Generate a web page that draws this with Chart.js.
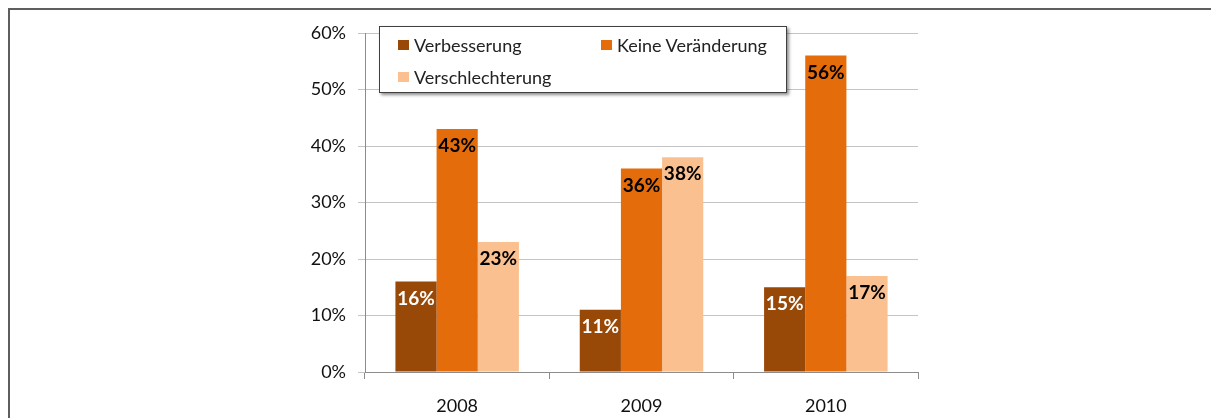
<!DOCTYPE html>
<html>
<head>
<meta charset="utf-8">
<script src="https://cdn.jsdelivr.net/npm/chart.js@4"></script>
<style>
    body { margin: 0; background: #fff; }
    #wrap { position: relative; width: 1211px; height: 418px; overflow: hidden; }
    #frame {
        position: absolute; left: 8px; top: 8px; width: 1400px; height: 600px;
        border-left: 2px solid #5e5e5e; border-top: 2px solid #5e5e5e;
    }
    #chartBox { position: absolute; left: 0; top: 0; width: 1211px; height: 418px; }
    #legend {
        position: absolute; left: 379px; top: 26px; width: 406px; height: 65px;
        background: #fff; border: 1px solid #404040;
        box-shadow: 2px 2px 3px rgba(0,0,0,0.45);
        font-family: Lato, sans-serif; font-size: 18px; color: #222;
    }
    .item { position: absolute; display: flex; align-items: center; white-space: nowrap; }
    .swatch { width: 11px; height: 10px; margin-right: 5px; }
</style>
</head>
<body>
<div id="wrap">
    <div id="frame"></div>
    <div id="chartBox"><canvas id="barChart" width="1211" height="418"></canvas></div>
    <div id="legend"></div>
</div>
<script>
// DATA
const years = ['2008', '2009', '2010'];
const seriesNames = ['Verbesserung', 'Keine Veränderung', 'Verschlechterung'];
const verbesserung = [16, 11, 15];
const keineVeraenderung = [43, 36, 56];
const verschlechterung = [23, 38, 17];
const yTicks = [0, 10, 20, 30, 40, 50, 60];

// STYLE
const barColors = ['#984807', '#E46C0A', '#FAC090'];
const labelColors = ['#ffffff', '#000000', '#000000'];

const seriesValues = [verbesserung, keineVeraenderung, verschlechterung];

// value labels drawn just inside the top of each bar
const valueLabels = {
    id: 'valueLabels',
    afterDatasetsDraw(chart) {
        const ctx = chart.ctx;
        ctx.save();
        ctx.font = 'bold 19px Lato, sans-serif';
        ctx.textAlign = 'center';
        ctx.textBaseline = 'middle';
        chart.data.datasets.forEach((ds, i) => {
            chart.getDatasetMeta(i).data.forEach((bar, j) => {
                ctx.fillStyle = labelColors[i];
                ctx.fillText(ds.data[j] + '%', bar.x, bar.y + 17);
            });
        });
        ctx.restore();
    }
};

const ctx = document.getElementById('barChart').getContext('2d');
new Chart(ctx, {
    type: 'bar',
    data: {
        labels: years,
        datasets: seriesNames.map((name, i) => ({
            label: name,
            data: seriesValues[i],
            backgroundColor: barColors[i],
            categoryPercentage: 0.67,
            barPercentage: 1.0
        }))
    },
    options: {
        responsive: false,
        animation: false,
        layout: { padding: { left: 305, right: 293, top: 33, bottom: 0 } },
        plugins: { legend: { display: false }, tooltip: { enabled: false } },
        scales: {
            x: {
                grid: { drawOnChartArea: false, offset: true, tickLength: 7, color: '#8c8c8c' },
                border: { color: '#8c8c8c' },
                ticks: { color: '#111', font: { family: 'Lato', size: 18 }, padding: 16 },
                afterFit: s => { s.height = 46; }
            },
            y: {
                min: 0, max: 60,
                afterBuildTicks: s => { s.ticks = yTicks.map(v => ({ value: v })); },
                grid: { color: '#c4c4c4', tickLength: 7, tickColor: '#c4c4c4' },
                border: { color: '#8c8c8c' },
                ticks: { color: '#111', font: { family: 'Lato', size: 18 }, padding: 12,
                         callback: v => v + '%' },
                afterFit: s => { s.width = 60; }
            }
        }
    },
    plugins: [valueLabels]
});

// LEGEND
const legend = document.getElementById('legend');
const legendPos = [[18, 7], [221, 7], [18, 39]];
seriesNames.forEach((name, i) => {
    const item = document.createElement('div');
    item.className = 'item';
    item.style.left = legendPos[i][0] + 'px';
    item.style.top = legendPos[i][1] + 'px';
    item.innerHTML = `<span class="swatch" style="background:${barColors[i]}"></span>${name}`;
    legend.appendChild(item);
});
</script>
</body>
</html>
